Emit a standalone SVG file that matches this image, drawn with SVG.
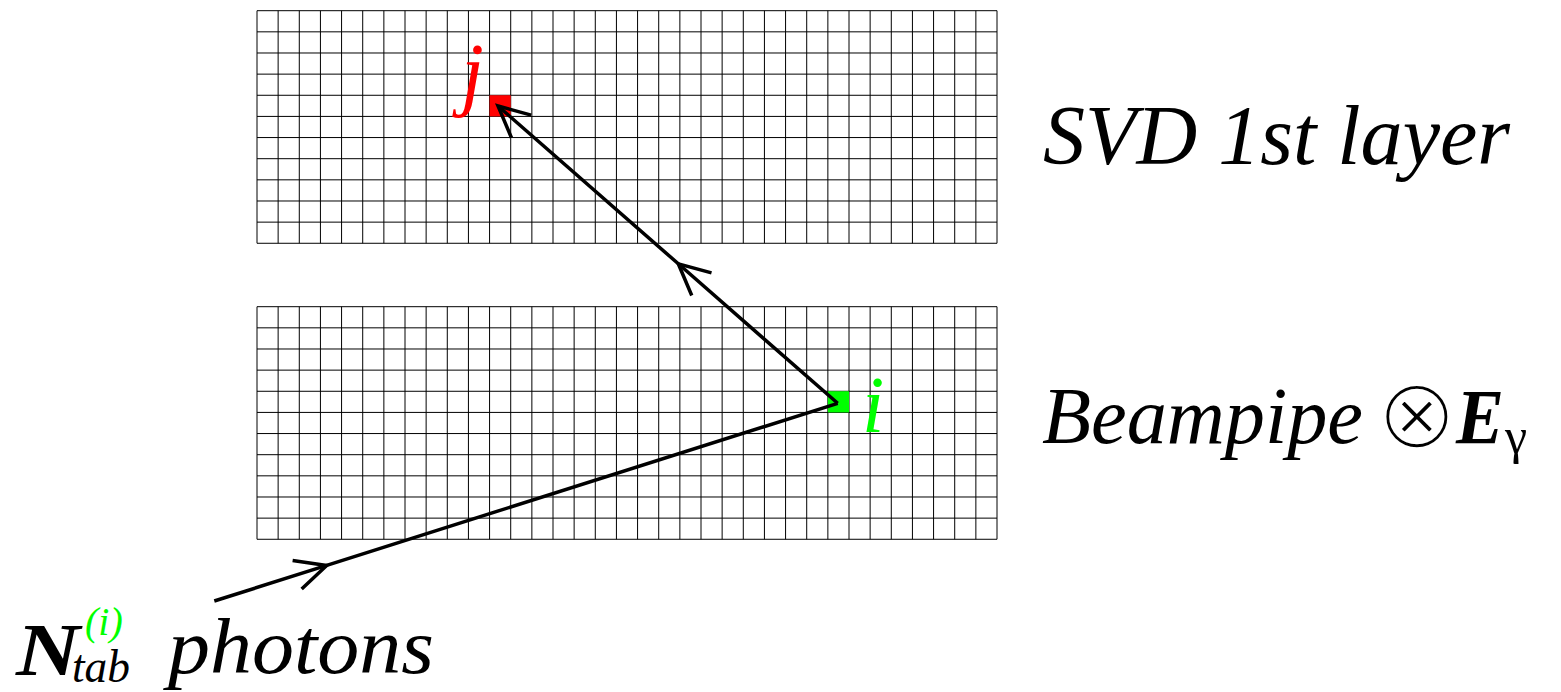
<svg xmlns="http://www.w3.org/2000/svg" width="1561" height="692" viewBox="0 0 1561 692">
<style>
.grid{fill:none;stroke:#000;stroke-width:1}
.ray{fill:none;stroke:#000;stroke-width:3.5;stroke-linejoin:miter}
.lbl{font-family:"Liberation Serif","Times New Roman",serif;font-style:italic;fill:#000}
</style>
<defs>
<marker id="chev" markerUnits="userSpaceOnUse" viewBox="-40 -25 50 50" refX="0" refY="0" markerWidth="50" markerHeight="50" orient="auto" overflow="visible">
<path d="M-31,-15 L0,0 L-31,15" fill="none" stroke="#000" stroke-width="3.5"/>
</marker>
<path id="gridpath" class="grid" d="M257,10.7V243.27M278.14,10.7V243.27M299.29,10.7V243.27M320.43,10.7V243.27M341.57,10.7V243.27M362.71,10.7V243.27M383.86,10.7V243.27M405,10.7V243.27M426.14,10.7V243.27M447.29,10.7V243.27M468.43,10.7V243.27M489.57,10.7V243.27M510.71,10.7V243.27M531.86,10.7V243.27M553,10.7V243.27M574.14,10.7V243.27M595.29,10.7V243.27M616.43,10.7V243.27M637.57,10.7V243.27M658.71,10.7V243.27M679.86,10.7V243.27M701,10.7V243.27M722.14,10.7V243.27M743.29,10.7V243.27M764.43,10.7V243.27M785.57,10.7V243.27M806.71,10.7V243.27M827.86,10.7V243.27M849,10.7V243.27M870.14,10.7V243.27M891.29,10.7V243.27M912.43,10.7V243.27M933.57,10.7V243.27M954.71,10.7V243.27M975.86,10.7V243.27M997,10.7V243.27M257,10.7H997M257,31.84H997M257,52.99H997M257,74.13H997M257,95.27H997M257,116.41H997M257,137.56H997M257,158.7H997M257,179.84H997M257,200.99H997M257,222.13H997M257,243.27H997"/>
</defs>
<rect width="1561" height="692" fill="#fff"/>
<g id="svd-layer">
<use href="#gridpath"/>
<rect x="489.57" y="95.27" width="21.14" height="21.14" fill="#ff0000"/>
<text class="lbl" x="461" y="100" font-size="82" style="fill:#ff0000">j</text>
<text class="lbl" x="1043" y="164" font-size="84" textLength="467" lengthAdjust="spacingAndGlyphs">SVD 1st layer</text>
</g>
<g id="beampipe">
<use href="#gridpath" transform="translate(0,296)"/>
<rect x="827.86" y="391.27" width="21.14" height="21.14" fill="#00ff00"/>
<text class="lbl" x="862" y="432" font-size="80" style="fill:#00ff00">i</text>
<text class="lbl" x="1042" y="443" font-size="80" textLength="321" lengthAdjust="spacingAndGlyphs">Beampipe</text>
<text x="1417" y="448" font-size="100" text-anchor="middle" font-family="DejaVu Sans, sans-serif" fill="#000" stroke="#fff" stroke-width="4.5">⊗</text>
<text class="lbl" x="1456" y="443" font-size="78" font-weight="bold" textLength="48" lengthAdjust="spacingAndGlyphs">E</text>
<text x="1505" y="453" font-size="50" font-family="Liberation Serif, serif" fill="#000">γ</text>
</g>
<g id="photons">
<text class="lbl" x="16" y="675" font-size="74" font-weight="bold" textLength="64" lengthAdjust="spacingAndGlyphs">N</text>
<text class="lbl" x="72" y="682" font-size="46" textLength="58" lengthAdjust="spacingAndGlyphs">tab</text>
<text class="lbl" x="85" y="635" font-size="40" style="fill:#00ff00">(i)</text>
<text class="lbl" x="168" y="673" font-size="78" textLength="266" lengthAdjust="spacingAndGlyphs">photons</text>
</g>
<g id="connectors">
<path class="ray" d="M214.3,601 L326.7,565.4 L837.7,403.3" marker-mid="url(#chev)"/>
<path class="ray" d="M837.7,403.3 L678.3,263.8 L498,106" marker-mid="url(#chev)" marker-end="url(#chev)"/>
</g>
</svg>
